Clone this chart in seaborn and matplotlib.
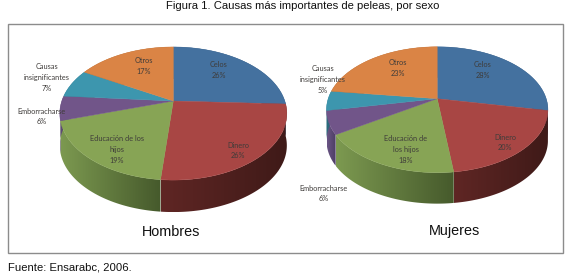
import numpy as np
import matplotlib
matplotlib.use('Agg')
import matplotlib.pyplot as plt
import seaborn as sns
from matplotlib.colors import LinearSegmentedColormap
from matplotlib.patches import Polygon, Rectangle
from matplotlib.path import Path
from matplotlib.transforms import Affine2D, Transform

causas = ['Celos', 'Dinero', 'Educación de los hijos', 'Emborracharse', 'Causas insignificantes', 'Otros']
hombres = [26, 26, 19, 6, 7, 17]
mujeres = [28, 20, 18, 6, 5, 23]
colores = ['#44719f', '#a84644', '#87a455', '#715589', '#3d96ae', '#da8445']
# sombra del costado: color a la izquierda, color a la derecha
costado = [('#2c4a6b', '#2c4a6b'), ('#5f2624', '#3f1a18'), ('#7c9950', '#465a2c'),
           ('#6a5585', '#493a60'), ('#2a6a7c', '#2a6a7c'), ('#8f5628', '#8f5628')]

hombres_txt = ['Celos', 'Dinero', 'Educación de los\nhijos', 'Emborracharse', 'Causas\ninsignificantes', 'Otros']
mujeres_txt = ['Celos', 'Dinero', 'Educación de\nlos hijos', 'Emborracharse', 'Causas\ninsignificantes', 'Otros']


class Tilt(Transform):
    # circulo unidad -> elipse en perspectiva (pixeles)
    input_dims = 2
    output_dims = 2

    def __init__(self, ax_, ay, rx, ry, k):
        super().__init__()
        self.ax_, self.ay, self.rx, self.ry, self.k = ax_, ay, rx, ry, k

    def transform_non_affine(self, xy):
        xy = np.asarray(xy)
        w = 1 + self.k * xy[:, 1]
        return np.c_[self.ax_ + self.rx * xy[:, 0] / w, self.ay - self.ry * xy[:, 1] / w]

    def transform_path_non_affine(self, path):
        pts = path.transformed(Affine2D().scale(500)).to_polygons(closed_only=False)[0] / 500
        return Path(self.transform_non_affine(pts))


def draw_pie(ax, values, etiquetas, pos, geom, depth):
    tilt = Tilt(*geom)
    wedges, _ = ax.pie(values, colors=sns.color_palette(colores), startangle=90, counterclock=False,
                       wedgeprops={'linewidth': 0.3, 'zorder': 3})
    for i, w in enumerate(wedges):
        w.set_edgecolor(colores[i])
        w.set_transform(tilt + ax.transData)
        t = np.radians(np.linspace(w.theta1, w.theta2, 80))
        arc = tilt.transform_non_affine(np.c_[np.cos(t), np.sin(t)])
        low = arc + [0, depth]
        poly = np.vstack([arc, low[::-1]])
        cmap = LinearSegmentedColormap.from_list('c', costado[i])
        x0, x1 = arc[:, 0].min(), arc[:, 0].max()
        y0, y1 = poly[:, 1].min(), poly[:, 1].max()
        im = ax.imshow(np.linspace(0, 1, 64).reshape(1, -1), extent=[x0, x1, y1, y0], aspect='auto',
                       cmap=cmap, zorder=2, interpolation='bilinear')
        clip = Polygon(poly, closed=True, transform=ax.transData, fill=False, linewidth=0)
        ax.add_patch(clip)
        im.set_clip_path(clip)
    for txt, v, (x, y) in zip(etiquetas, values, pos):
        ax.text(x, y, f'{txt}\n{v}%', ha='center', va='center', fontsize=5.3, family='Lato',
                color='#3f3c3a', linespacing=1.6, zorder=5)


sns.set_theme(style='white')
plt.rcParams['font.family'] = ['Liberation Sans', 'DejaVu Sans']

fig = plt.figure(figsize=(5.69, 2.78), dpi=100)
ax = fig.add_axes([0, 0, 1, 1])

pos_h = [(219, 70), (238, 150.5), (117, 149.5), (42, 116.5), (47, 77.5), (144, 66)]
pos_m = [(483, 70), (505, 142.5), (406, 149.5), (324, 193.5), (323, 79.5), (398, 68)]
draw_pie(ax, hombres, hombres_txt, pos_h, (173.3, 101, 111.5, 64.2, 0.188), 32)
draw_pie(ax, mujeres, mujeres_txt, pos_m, (437.2, 98.7, 109, 61, 0.175), 31)

ax.set_aspect('auto')
ax.set_xlim(0, 569)
ax.set_ylim(278, 0)
ax.axis('off')

ax.add_patch(Rectangle((8, 24), 555, 229, fill=False, edgecolor='#8c8c8c', linewidth=1, zorder=1))

ax.text(303, 6, 'Figura 1. Causas más importantes de peleas, por sexo', ha='center', va='center',
        fontsize=8.1, color='#111111')
ax.text(171.5, 232, 'Hombres', ha='center', va='center', fontsize=10.4, color='#111111')
ax.text(455, 231, 'Mujeres', ha='center', va='center', fontsize=10.4, color='#111111')
ax.text(8, 267, 'Fuente: Ensarabc, 2006.', ha='left', va='center', fontsize=8.1, color='#111111')

fig.savefig('out.png', dpi=100)
